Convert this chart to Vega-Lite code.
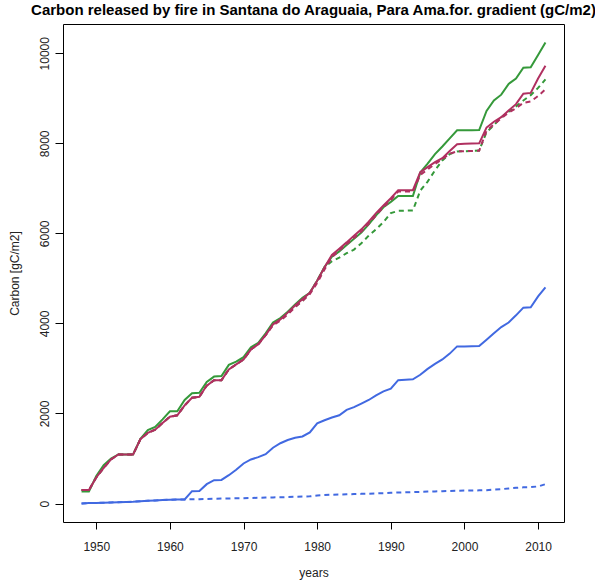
{
 "$schema": "https://vega.github.io/schema/vega-lite/v6.json",
 "width": 501, "height": 498,
 "autosize": {"type": "none"},
 "padding": {"left": 63, "top": 24, "right": 31, "bottom": 59},
 "background": "white",
 "title": {"text": "Carbon released by fire in Santana do Araguaia, Para Ama.for. gradient (gC/m2)", "fontSize": 15, "fontWeight": "bold", "font": "Liberation Sans", "anchor": "middle", "offset": 6, "color": "black"},
 "config": {
  "view": {"stroke": "black", "strokeWidth": 1},
  "axis": {"domain": false, "grid": false, "tickColor": "black", "tickWidth": 1, "labelFont": "Liberation Sans", "labelFontSize": 12, "labelColor": "#222", "titleFont": "Liberation Sans", "titleFontSize": 12, "titleFontWeight": "normal", "titleColor": "#222"},
  "axisY": {"tickSize": 8, "labelAngle": 270, "labelAlign": "center", "labelBaseline": "bottom", "labelPadding": 4, "titleX": -49, "titleY": 249, "titleBaseline": "middle", "titleAngle": 270}
 },
 "data": {"values": [
  {"year":1948,"G":270,"M":300,"Gd":300,"Md":300,"B":0,"Bd":0},
  {"year":1949,"G":270,"M":300,"Gd":300,"Md":300,"B":10,"Bd":10},
  {"year":1950,"G":610,"M":580,"Gd":580,"Md":580,"B":15,"Bd":15},
  {"year":1951,"G":850,"M":790,"Gd":790,"Md":790,"B":20,"Bd":20},
  {"year":1952,"G":1000,"M":980,"Gd":980,"Md":980,"B":25,"Bd":25},
  {"year":1953,"G":1090,"M":1090,"Gd":1090,"Md":1090,"B":30,"Bd":30},
  {"year":1954,"G":1090,"M":1090,"Gd":1090,"Md":1090,"B":35,"Bd":35},
  {"year":1955,"G":1090,"M":1090,"Gd":1090,"Md":1090,"B":40,"Bd":40},
  {"year":1956,"G":1440,"M":1430,"Gd":1430,"Md":1430,"B":50,"Bd":50},
  {"year":1957,"G":1630,"M":1570,"Gd":1570,"Md":1570,"B":60,"Bd":60},
  {"year":1958,"G":1700,"M":1640,"Gd":1640,"Md":1640,"B":70,"Bd":70},
  {"year":1959,"G":1870,"M":1790,"Gd":1790,"Md":1790,"B":78,"Bd":78},
  {"year":1960,"G":2050,"M":1930,"Gd":1930,"Md":1930,"B":84,"Bd":84},
  {"year":1961,"G":2050,"M":1960,"Gd":1960,"Md":1960,"B":88,"Bd":88},
  {"year":1962,"G":2300,"M":2180,"Gd":2180,"Md":2180,"B":92,"Bd":92},
  {"year":1963,"G":2450,"M":2350,"Gd":2350,"Md":2350,"B":275,"Bd":95},
  {"year":1964,"G":2460,"M":2370,"Gd":2370,"Md":2370,"B":280,"Bd":98},
  {"year":1965,"G":2700,"M":2620,"Gd":2620,"Md":2620,"B":430,"Bd":102},
  {"year":1966,"G":2820,"M":2740,"Gd":2740,"Md":2740,"B":520,"Bd":106},
  {"year":1967,"G":2830,"M":2740,"Gd":2740,"Md":2740,"B":525,"Bd":110},
  {"year":1968,"G":3080,"M":2980,"Gd":2980,"Md":2980,"B":630,"Bd":113},
  {"year":1969,"G":3150,"M":3090,"Gd":3090,"Md":3090,"B":750,"Bd":116},
  {"year":1970,"G":3250,"M":3200,"Gd":3200,"Md":3200,"B":890,"Bd":120},
  {"year":1971,"G":3470,"M":3420,"Gd":3420,"Md":3420,"B":980,"Bd":124},
  {"year":1972,"G":3570,"M":3540,"Gd":3540,"Md":3540,"B":1030,"Bd":128},
  {"year":1973,"G":3780,"M":3740,"Gd":3740,"Md":3740,"B":1095,"Bd":132},
  {"year":1974,"G":4020,"M":3980,"Gd":3980,"Md":3960,"B":1240,"Bd":136},
  {"year":1975,"G":4120,"M":4090,"Gd":4090,"Md":4060,"B":1340,"Bd":140},
  {"year":1976,"G":4260,"M":4240,"Gd":4220,"Md":4200,"B":1410,"Bd":145},
  {"year":1977,"G":4420,"M":4400,"Gd":4370,"Md":4360,"B":1460,"Bd":150},
  {"year":1978,"G":4570,"M":4540,"Gd":4500,"Md":4500,"B":1490,"Bd":155},
  {"year":1979,"G":4680,"M":4680,"Gd":4680,"Md":4650,"B":1580,"Bd":160},
  {"year":1980,"G":4950,"M":4950,"Gd":4950,"Md":4900,"B":1780,"Bd":180},
  {"year":1981,"G":5250,"M":5250,"Gd":5250,"Md":5200,"B":1850,"Bd":190},
  {"year":1982,"G":5480,"M":5520,"Gd":5380,"Md":5470,"B":1910,"Bd":195},
  {"year":1983,"G":5600,"M":5660,"Gd":5460,"Md":5620,"B":1960,"Bd":200},
  {"year":1984,"G":5740,"M":5800,"Gd":5560,"Md":5760,"B":2080,"Bd":205},
  {"year":1985,"G":5880,"M":5950,"Gd":5640,"Md":5900,"B":2140,"Bd":210},
  {"year":1986,"G":6020,"M":6090,"Gd":5780,"Md":6040,"B":2220,"Bd":215},
  {"year":1987,"G":6200,"M":6260,"Gd":5950,"Md":6210,"B":2300,"Bd":220},
  {"year":1988,"G":6400,"M":6450,"Gd":6090,"Md":6400,"B":2400,"Bd":225},
  {"year":1989,"G":6580,"M":6620,"Gd":6250,"Md":6580,"B":2490,"Bd":230},
  {"year":1990,"G":6700,"M":6780,"Gd":6450,"Md":6740,"B":2550,"Bd":240},
  {"year":1991,"G":6830,"M":6960,"Gd":6500,"Md":6930,"B":2740,"Bd":245},
  {"year":1992,"G":6830,"M":6960,"Gd":6505,"Md":6930,"B":2750,"Bd":250},
  {"year":1993,"G":6830,"M":6960,"Gd":6510,"Md":6930,"B":2760,"Bd":255},
  {"year":1994,"G":7350,"M":7360,"Gd":6950,"Md":7300,"B":2860,"Bd":260},
  {"year":1995,"G":7550,"M":7470,"Gd":7150,"Md":7420,"B":2990,"Bd":265},
  {"year":1996,"G":7760,"M":7580,"Gd":7400,"Md":7540,"B":3100,"Bd":270},
  {"year":1997,"G":7930,"M":7670,"Gd":7620,"Md":7650,"B":3200,"Bd":275},
  {"year":1998,"G":8110,"M":7830,"Gd":7760,"Md":7770,"B":3330,"Bd":280},
  {"year":1999,"G":8290,"M":7980,"Gd":7820,"Md":7820,"B":3490,"Bd":285},
  {"year":2000,"G":8290,"M":7990,"Gd":7825,"Md":7825,"B":3490,"Bd":288},
  {"year":2001,"G":8290,"M":7995,"Gd":7830,"Md":7830,"B":3495,"Bd":290},
  {"year":2002,"G":8295,"M":8000,"Gd":7840,"Md":7835,"B":3500,"Bd":293},
  {"year":2003,"G":8720,"M":8350,"Gd":8250,"Md":8280,"B":3640,"Bd":298},
  {"year":2004,"G":8950,"M":8480,"Gd":8400,"Md":8420,"B":3780,"Bd":310},
  {"year":2005,"G":9080,"M":8580,"Gd":8580,"Md":8560,"B":3920,"Bd":320},
  {"year":2006,"G":9320,"M":8730,"Gd":8700,"Md":8680,"B":4020,"Bd":335},
  {"year":2007,"G":9440,"M":8870,"Gd":8820,"Md":8780,"B":4180,"Bd":350},
  {"year":2008,"G":9680,"M":9100,"Gd":8950,"Md":8900,"B":4350,"Bd":360},
  {"year":2009,"G":9690,"M":9120,"Gd":9070,"Md":8930,"B":4360,"Bd":365},
  {"year":2010,"G":9960,"M":9440,"Gd":9230,"Md":9050,"B":4600,"Bd":380},
  {"year":2011,"G":10240,"M":9720,"Gd":9420,"Md":9200,"B":4800,"Bd":430}
 ]},
 "encoding": {
  "x": {"field": "year", "type": "quantitative",
        "scale": {"domain": [1945.48, 2013.52], "nice": false, "zero": false},
        "axis": {"values": [1950,1960,1970,1980,1990,2000,2010], "format": "d", "tickSize": 7, "labelPadding": 12, "title": "years", "titleX": 250.5, "titleY": 50, "titleBaseline": "middle"}}
 },
 "layer": [
  {"mark": {"type": "line", "color": "#35993a", "strokeWidth": 2},
   "encoding": {"y": {"field": "G", "type": "quantitative", "scale": {"domain": [-409.6, 10649.6], "nice": false, "zero": false}, "axis": {"values": [0,2000,4000,6000,8000,10000], "format": "d", "title": "Carbon [gC/m2]"}}}},
  {"mark": {"type": "line", "color": "#35993a", "strokeWidth": 2, "strokeDash": [5, 4]},
   "encoding": {"y": {"field": "Gd", "type": "quantitative", "scale": {"domain": [-409.6, 10649.6], "nice": false, "zero": false}, "axis": {"values": [0,2000,4000,6000,8000,10000], "format": "d", "title": "Carbon [gC/m2]"}}}},
  {"mark": {"type": "line", "color": "#b03060", "strokeWidth": 2},
   "encoding": {"y": {"field": "M", "type": "quantitative", "scale": {"domain": [-409.6, 10649.6], "nice": false, "zero": false}, "axis": {"values": [0,2000,4000,6000,8000,10000], "format": "d", "title": "Carbon [gC/m2]"}}}},
  {"mark": {"type": "line", "color": "#b03060", "strokeWidth": 2, "strokeDash": [5, 4]},
   "encoding": {"y": {"field": "Md", "type": "quantitative", "scale": {"domain": [-409.6, 10649.6], "nice": false, "zero": false}, "axis": {"values": [0,2000,4000,6000,8000,10000], "format": "d", "title": "Carbon [gC/m2]"}}}},
  {"mark": {"type": "line", "color": "#4169e1", "strokeWidth": 2},
   "encoding": {"y": {"field": "B", "type": "quantitative", "scale": {"domain": [-409.6, 10649.6], "nice": false, "zero": false}, "axis": {"values": [0,2000,4000,6000,8000,10000], "format": "d", "title": "Carbon [gC/m2]"}}}},
  {"mark": {"type": "line", "color": "#4169e1", "strokeWidth": 2, "strokeDash": [5, 4]},
   "encoding": {"y": {"field": "Bd", "type": "quantitative", "scale": {"domain": [-409.6, 10649.6], "nice": false, "zero": false}, "axis": {"values": [0,2000,4000,6000,8000,10000], "format": "d", "title": "Carbon [gC/m2]"}}}}
 ]
}
